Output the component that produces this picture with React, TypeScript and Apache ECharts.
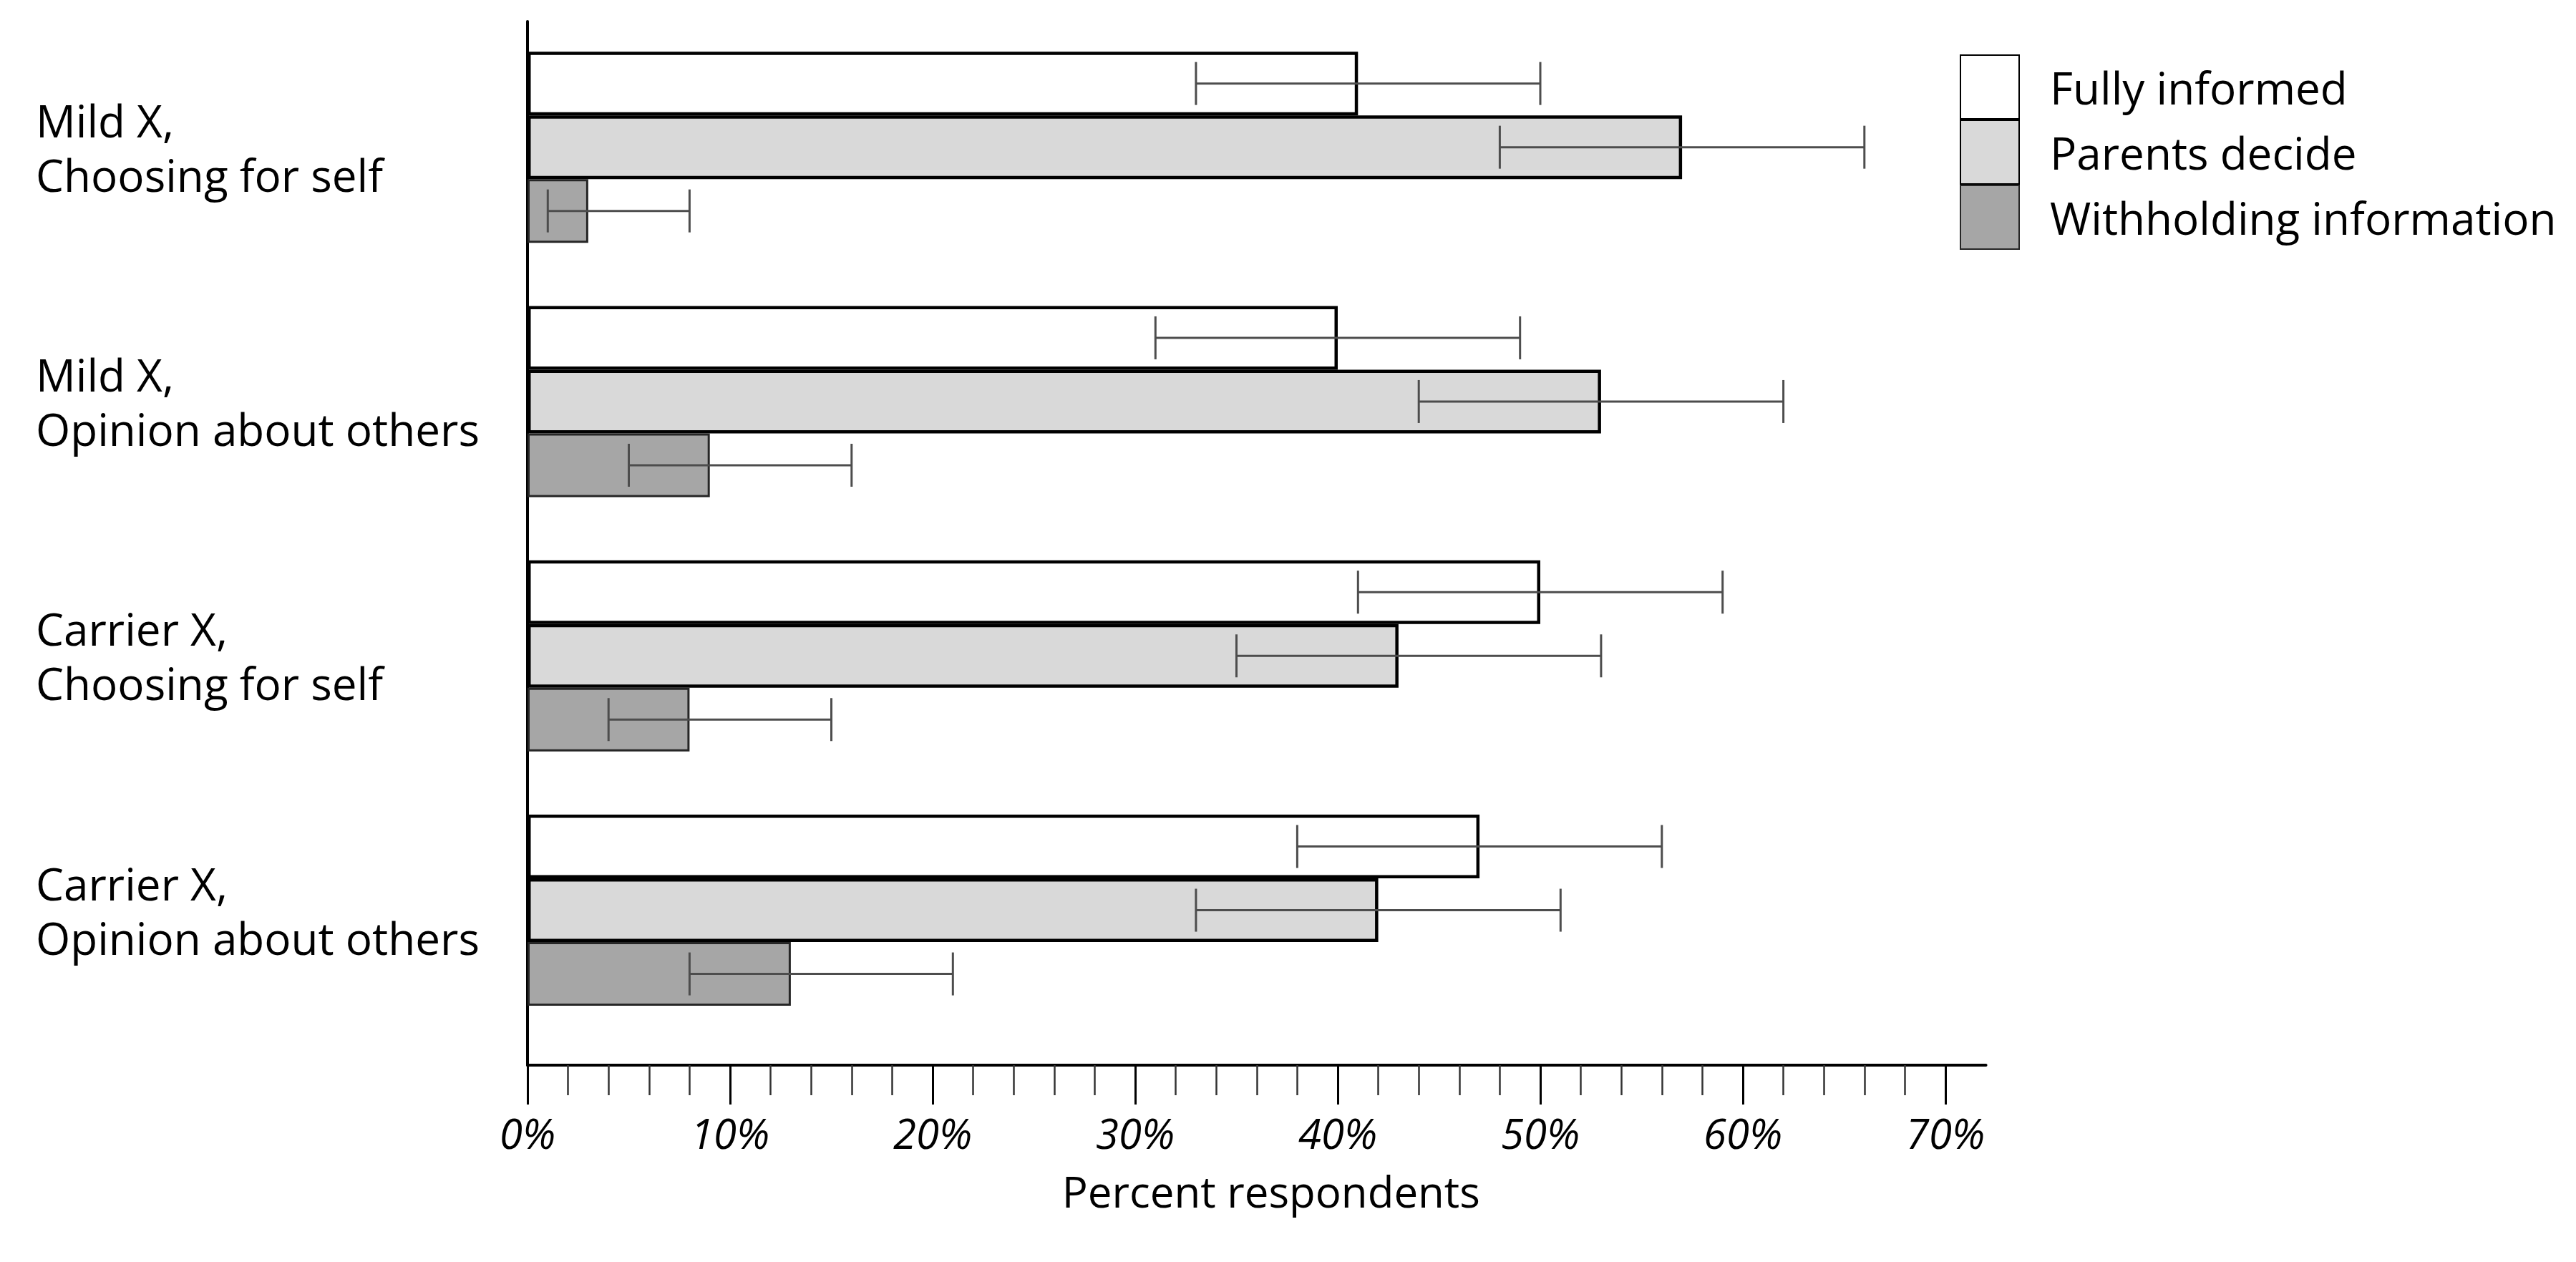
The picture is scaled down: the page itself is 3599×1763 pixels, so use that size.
import React, { useEffect, useRef } from "react";
import * as echarts from "echarts";

const categories = [
  "Mild X,\nChoosing for self",
  "Mild X,\nOpinion about others",
  "Carrier X,\nChoosing for self",
  "Carrier X,\nOpinion about others",
];
const seriesNames = ["Fully informed", "Parents decide", "Withholding information"];

const fullyInformed = [41, 40, 50, 47];
const parentsDecide = [57, 53, 43, 42];
const withholding = [3, 9, 8, 13];

const fullyInformedLow = [33, 31, 41, 38];
const fullyInformedHigh = [50, 49, 59, 56];
const parentsDecideLow = [48, 44, 35, 33];
const parentsDecideHigh = [66, 62, 53, 51];
const withholdingLow = [1, 5, 4, 8];
const withholdingHigh = [8, 16, 15, 21];

const majorTicks = [0, 10, 20, 30, 40, 50, 60, 70];
const minorTicks = [0, 2, 4, 6, 8, 10, 12, 14, 16, 18, 20, 22, 24, 26, 28, 30, 32, 34, 36, 38, 40, 42, 44, 46, 48, 50, 52, 54, 56, 58, 60, 62, 64, 66, 68, 70];

export default function App() {
  const ref = useRef<HTMLDivElement>(null);

  useEffect(() => {
    document.body.style.margin = "0";
    const chart = echarts.init(ref.current!, null, { renderer: "svg" });

    const font = "Open Sans";
    const unit = 28.3; // px per percent
    const left = 737;
    const top = 28;
    const bandH = 355.3;
    const barW = 89;

    const values = [fullyInformed, parentsDecide, withholding];
    const lows = [fullyInformedLow, parentsDecideLow, withholdingLow];
    const highs = [fullyInformedHigh, parentsDecideHigh, withholdingHigh];
    const fills = ["#ffffff", "#d9d9d9", "#a6a6a6"];
    const borders = ["#000000", "#000000", "#262626"];
    const borderWs = [4.5, 4.5, 3];

    const barSeries = seriesNames.map((name, k) => ({
      name,
      type: "bar",
      xAxisIndex: 0,
      yAxisIndex: 0,
      data: values[k],
      barWidth: barW,
      barGap: "0%",
      itemStyle: { color: fills[k], borderColor: borders[k], borderWidth: borderWs[k] },
      emphasis: { disabled: true },
    }));

    const errSeries = seriesNames.map((name, k) => ({
      name: name + " (95% CI)",
      type: "custom",
      xAxisIndex: 0,
      yAxisIndex: 0,
      z: 5,
      data: categories.map((_, i) => [i, lows[k][i], highs[k][i]]),
      encode: { x: [1, 2], y: 0 },
      renderItem: (params: any, api: any) => {
        const cat = api.value(0);
        const y = api.coord([0, cat])[1] + (k - 1) * barW;
        const x1 = api.coord([api.value(1), cat])[0];
        const x2 = api.coord([api.value(2), cat])[0];
        const st = { stroke: "#4d4d4d", lineWidth: 3 };
        const cap = 30;
        return {
          type: "group",
          children: [
            { type: "line", shape: { x1, y1: y, x2, y2: y }, style: st },
            { type: "line", shape: { x1, y1: y - cap, x2: x1, y2: y + cap }, style: st },
            { type: "line", shape: { x1: x2, y1: y - cap, x2, y2: y + cap }, style: st },
          ],
        };
      },
    }));

    chart.setOption({
      animation: false,
      backgroundColor: "#ffffff",
      textStyle: { fontFamily: font },
      grid: [
        { left, top, width: unit * 70, height: bandH * 4 },
        { left, top: 30, width: unit * 72, height: 1458 },
      ],
      legend: {
        data: seriesNames,
        orient: "vertical",
        left: 2733,
        top: 71,
        itemWidth: 82,
        itemHeight: 89,
        itemGap: 0,
        icon: "rect",
        selectedMode: false,
        textStyle: { fontFamily: font, fontSize: 62, color: "#000", padding: [0, 0, 0, 38] },
      },
      xAxis: [
        { type: "value", gridIndex: 0, min: 0, max: 70, show: false },
        {
          type: "value",
          gridIndex: 1,
          position: "bottom",
          min: 0,
          max: 72,
          axisLine: { show: true, lineStyle: { color: "#000", width: 4 } },
          axisTick: { show: true, customValues: minorTicks, length: 42, lineStyle: { color: "#333", width: 2.5 } },
          splitLine: { show: false },
          axisLabel: {
            show: true,
            customValues: majorTicks,
            formatter: "{value}%",
            fontFamily: font,
            fontStyle: "italic",
            fontSize: 58,
            lineHeight: 58,
            color: "#000",
            margin: 65,
          },
          name: "Percent respondents",
          nameLocation: "middle",
          nameGap: 146,
          nameTextStyle: { fontFamily: font, fontSize: 60, lineHeight: 60, color: "#000", padding: [0, 0, 0, 40] },
        },
        {
          type: "value",
          gridIndex: 1,
          position: "bottom",
          min: 0,
          max: 72,
          axisLine: { show: false },
          axisTick: { show: true, customValues: majorTicks, length: 55, lineStyle: { color: "#000", width: 3 } },
          splitLine: { show: false },
          axisLabel: { show: false },
        },
      ],
      yAxis: [
        {
          type: "category",
          gridIndex: 0,
          data: categories,
          inverse: true,
          axisLine: { show: false },
          axisTick: { show: false },
          axisLabel: {
            align: "left",
            margin: 687,
            fontFamily: font,
            fontSize: 62,
            lineHeight: 76,
            color: "#000",
          },
        },
        {
          type: "value",
          gridIndex: 1,
          min: 0,
          max: 1,
          axisLine: { show: true, lineStyle: { color: "#000", width: 4 } },
          axisTick: { show: false },
          axisLabel: { show: false },
          splitLine: { show: false },
        },
      ],
      series: [...barSeries, ...errSeries],
    });

    return () => chart.dispose();
  }, []);

  return <div ref={ref} style={{ width: 3599, height: 1763 }} />;
}
